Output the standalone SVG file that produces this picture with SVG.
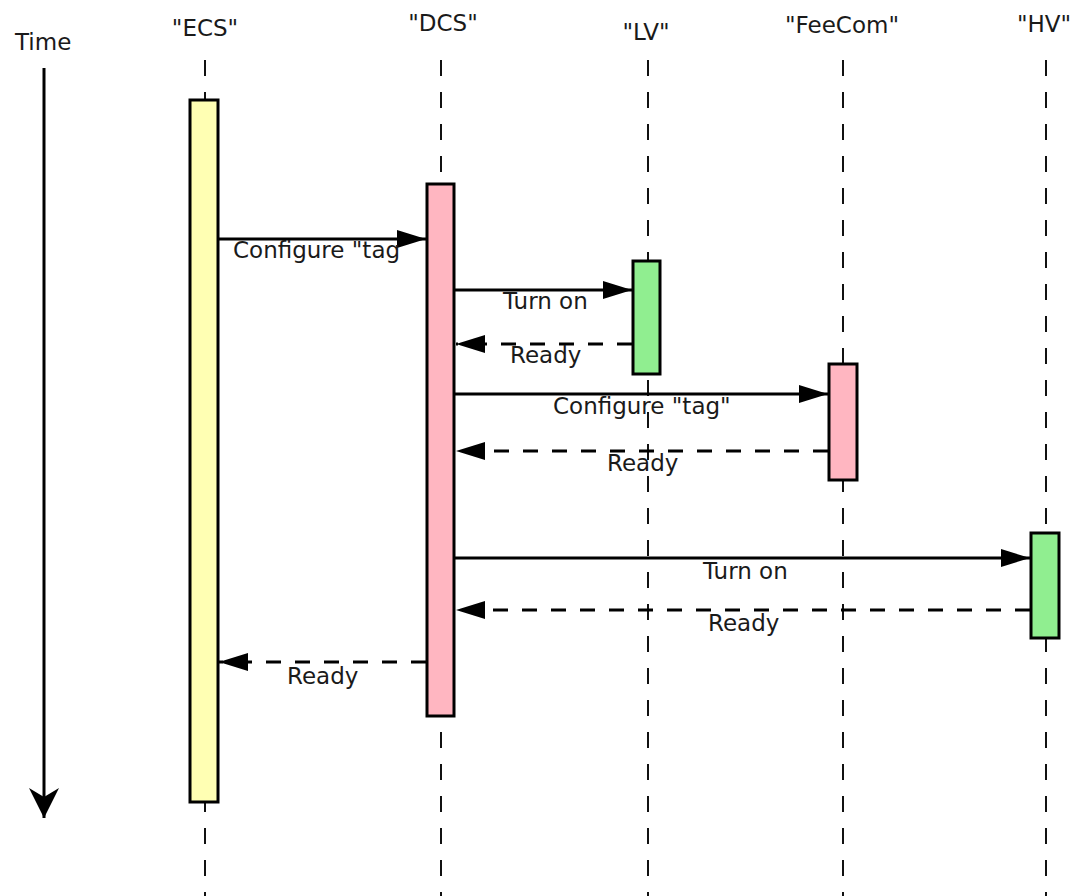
<svg xmlns="http://www.w3.org/2000/svg" width="1071" height="896" viewBox="0 0 1071 896">
<style>
text{font-family:"DejaVu Sans","Liberation Sans",sans-serif;font-size:23px;fill:#1a1a1a}
.hd{text-anchor:middle}
.life{stroke:#111;stroke-width:2;stroke-dasharray:16 16;fill:none}
.box{stroke:#000;stroke-width:3}
.yel{fill:#ffffb3}
.pink{fill:#ffb6c1}
.green{fill:#90ee90}
.msg{stroke:#000;stroke-width:3;fill:none;marker-end:url(#ah)}
.ret{stroke:#000;stroke-width:3;fill:none;stroke-dasharray:15 14;marker-end:url(#ah)}
</style>
<defs>
<marker id="ah" markerUnits="userSpaceOnUse" markerWidth="32" markerHeight="20" refX="29" refY="9" orient="auto" overflow="visible">
<path d="M0,0 L29,9 L0,18 Z" fill="#000" stroke="none"/>
</marker>
<marker id="timeah" markerUnits="userSpaceOnUse" markerWidth="32" markerHeight="32" refX="30" refY="15" orient="auto" overflow="visible">
<path d="M30,15 L0,0 L9,15 L0,30 Z" fill="#000" stroke="none"/>
</marker>
</defs>
<rect width="1071" height="896" fill="#fff"/>
<g id="time">
<text x="15" y="50">Time</text>
<line x1="44" y1="68" x2="44" y2="818" stroke="#000" stroke-width="3" marker-end="url(#timeah)"/>
</g>
<g id="ECS">
<text class="hd" x="205" y="36">"ECS"</text>
<line class="life" x1="205" y1="60" x2="205" y2="896"/>
<rect class="box yel" x="190" y="100" width="28" height="702"/>
</g>
<g id="DCS">
<text class="hd" x="443" y="31">"DCS"</text>
<line class="life" x1="441" y1="60" x2="441" y2="896"/>
<rect class="box pink" x="427" y="184" width="27" height="532"/>
</g>
<g id="LV">
<text class="hd" x="646" y="40">"LV"</text>
<line class="life" x1="648" y1="60" x2="648" y2="896"/>
<rect class="box green" x="633" y="261" width="27" height="113"/>
</g>
<g id="FeeCom">
<text class="hd" x="842" y="33">"FeeCom"</text>
<line class="life" x1="843" y1="60" x2="843" y2="896"/>
<rect class="box pink" x="829" y="364" width="28" height="116"/>
</g>
<g id="HV">
<text class="hd" x="1044" y="32">"HV"</text>
<line class="life" x1="1046" y1="60" x2="1046" y2="896"/>
<rect class="box green" x="1031" y="533" width="28" height="105"/>
</g>
<g id="connectors">
<line class="msg" x1="218" y1="239" x2="426" y2="239"/>
<line class="msg" x1="455" y1="290" x2="632" y2="290"/>
<line class="ret" x1="632" y1="344" x2="456" y2="344"/>
<line class="msg" x1="455" y1="394" x2="828" y2="394"/>
<line class="ret" x1="828" y1="451" x2="456" y2="451"/>
<line class="msg" x1="455" y1="558" x2="1030" y2="558"/>
<line class="ret" x1="1030" y1="610" x2="456" y2="610"/>
<line class="ret" x1="426" y1="662" x2="219" y2="662"/>
</g>
<g id="labels">
<text x="233" y="258">Configure "tag</text>
<text x="503" y="309">Turn on</text>
<text x="510" y="363">Ready</text>
<text x="553" y="414">Configure "tag"</text>
<text x="607" y="471">Ready</text>
<text x="703" y="579">Turn on</text>
<text x="708" y="631">Ready</text>
<text x="287" y="684">Ready</text>
</g>
</svg>
